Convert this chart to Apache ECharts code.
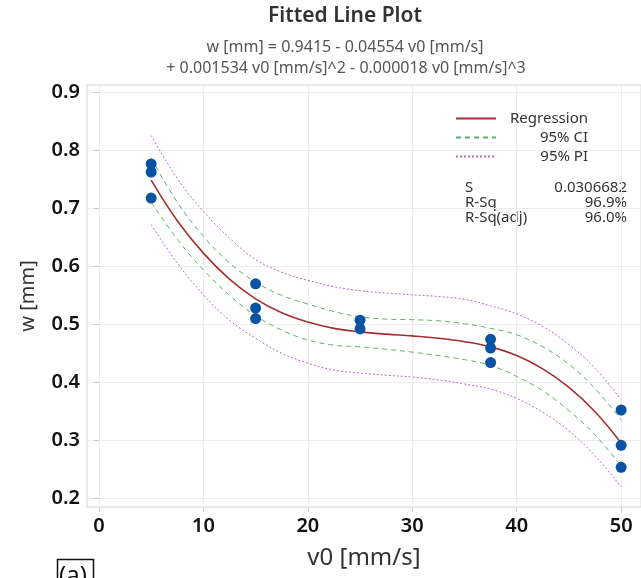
<!DOCTYPE html>
<html>
<head>
<meta charset="utf-8">
<script src="https://cdn.jsdelivr.net/npm/echarts@6/dist/echarts.min.js"></script>
<style>
html,body{margin:0;padding:0;background:#fff;}
#c{width:641px;height:578px;}
</style>
</head>
<body>
<div id="c"></div>
<script>
// ---- data ----
const pointX = [5, 5, 5, 15, 15, 15, 25, 25, 37.5, 37.5, 37.5, 50, 50, 50];
const pointY = [0.777, 0.763, 0.718, 0.570, 0.528, 0.510, 0.507, 0.492, 0.474, 0.459, 0.434, 0.352, 0.291, 0.253];

const curveX = [5, 7.5, 10, 12.5, 15, 17.5, 20, 22.5, 25, 27.5, 30, 32.5, 35, 37.5, 40, 42.5, 45, 47.5, 50];
const regression = [0.749, 0.679, 0.623, 0.578, 0.544, 0.520, 0.504, 0.493, 0.487, 0.483, 0.480, 0.476, 0.470, 0.461, 0.446, 0.423, 0.391, 0.349, 0.295];
const ciUpper = [0.787, 0.711, 0.652, 0.606, 0.573, 0.550, 0.535, 0.522, 0.513, 0.509, 0.508, 0.506, 0.501, 0.493, 0.482, 0.461, 0.431, 0.389, 0.335];
const ciLower = [0.711, 0.647, 0.594, 0.550, 0.515, 0.490, 0.473, 0.464, 0.461, 0.457, 0.452, 0.446, 0.439, 0.429, 0.410, 0.385, 0.351, 0.309, 0.255];
const piUpper = [0.826, 0.752, 0.695, 0.649, 0.612, 0.590, 0.576, 0.565, 0.558, 0.554, 0.551, 0.548, 0.543, 0.532, 0.518, 0.496, 0.465, 0.424, 0.370];
const piLower = [0.672, 0.606, 0.551, 0.507, 0.476, 0.450, 0.433, 0.421, 0.416, 0.412, 0.409, 0.404, 0.397, 0.388, 0.372, 0.348, 0.316, 0.273, 0.219];

const xTicks = [0, 10, 20, 30, 40, 50];
const yTicks = [0.2, 0.3, 0.4, 0.5, 0.6, 0.7, 0.8, 0.9];

const titleText = 'Fitted Line Plot';
const equation1 = 'w [mm] = 0.9415 - 0.04554 v0 [mm/s]';
const equation2 = '+ 0.001534 v0 [mm/s]^2 - 0.000018 v0 [mm/s]^3';
const statNames = ['S', 'R-Sq', 'R-Sq(adj)'];
const statValues = ['0.0306682', '96.9%', '96.0%'];

// ---- build ----
const pair = (xs, ys) => xs.map((x, i) => [x, ys[i]]);
const FONT = '"Noto Sans", "Open Sans", sans-serif';

const colReg = '#a4302e';
const colCI = '#5fae6c';
const colPI = '#b46bcc';
const colPt = '#0a53a3';

const chart = echarts.init(document.getElementById('c'), null, {renderer: 'canvas'});

const statGraphics = [];
statNames.forEach((n, i) => {
  statGraphics.push({
    type: 'text', left: 465, top: 180 + i * 15,
    style: {text: n, font: '15px ' + FONT, fill: '#333'}
  });
  statGraphics.push({
    type: 'text', right: 14, top: 180 + i * 15,
    style: {text: statValues[i], font: '15px ' + FONT, fill: '#333', align: 'right'}
  });
});

const option = {
  backgroundColor: '#fff',
  animation: false,
  title: [
    {text: titleText, left: 340, top: 1, textAlign: 'center',
     textStyle: {fontFamily: FONT, fontSize: 21, fontWeight: 600, color: '#333'}},
    {text: equation1, left: 340, top: 34, textAlign: 'center',
     textStyle: {fontFamily: FONT, fontSize: 16, fontWeight: 'normal', color: '#555'}},
    {text: equation2, left: 341, top: 55, textAlign: 'center',
     textStyle: {fontFamily: FONT, fontSize: 16, fontWeight: 'normal', color: '#555'}}
  ],
  legend: {
    orient: 'vertical', left: 455, top: 111, padding: 0,
    itemWidth: 40, itemHeight: 13, itemGap: 4,
    itemStyle: {color: 'rgba(0,0,0,0)', borderWidth: 0, opacity: 0},
    data: ['Regression', '95% CI', '95% PI'],
    textStyle: {fontFamily: FONT, fontSize: 15, color: '#333',
      rich: {a: {width: 87, align: 'right', fontFamily: FONT, fontSize: 15, color: '#333'}}},
    formatter: n => '{a|' + n + '}'
  },
  grid: {left: 87, right: -3, top: 85, bottom: 71, show: true, borderColor: '#d4d4d4', borderWidth: 1, containLabel: false},
  xAxis: {
    type: 'value', min: -1.143, max: 51.9,
    name: 'v0 [mm/s]', nameLocation: 'middle', nameGap: 39,
    nameTextStyle: {fontFamily: FONT, fontSize: 24, color: '#333'},
    axisLine: {show: false},
    axisTick: {show: true, length: 5, lineStyle: {color: '#c8c8c8'}, customValues: xTicks},
    axisLabel: {customValues: xTicks, fontFamily: FONT, fontSize: 20, fontWeight: 600, color: '#111', margin: 9},
    splitLine: {show: true, lineStyle: {color: '#ececec', width: 1}}
  },
  yAxis: {
    type: 'value', min: 0.1845, max: 0.9133,
    name: 'w [mm]', nameLocation: 'middle', nameGap: 49, nameRotate: 90,
    nameTextStyle: {fontFamily: FONT, fontSize: 20, color: '#333'},
    axisLine: {show: false},
    axisTick: {show: true, length: 5, lineStyle: {color: '#c8c8c8'}, customValues: yTicks},
    axisLabel: {customValues: yTicks, fontFamily: FONT, fontSize: 20, fontWeight: 600, color: '#111', margin: 7,
      formatter: v => v.toFixed(1)},
    splitLine: {show: true, lineStyle: {color: '#ececec', width: 1}}
  },
  series: [
    {name: '95% PI', type: 'line', data: pair(curveX, piUpper), smooth: 0.4, symbol: 'none',
     lineStyle: {color: colPI, width: 1, type: [2, 2]}, itemStyle: {color: colPI}, z: 2},
    {name: '95% PI', type: 'line', data: pair(curveX, piLower), smooth: 0.4, symbol: 'none',
     lineStyle: {color: colPI, width: 1, type: [2, 2]}, itemStyle: {color: colPI}, z: 2},
    {name: '95% CI', type: 'line', data: pair(curveX, ciUpper), smooth: 0.4, symbol: 'none',
     lineStyle: {color: colCI, width: 1, type: [5, 4]}, itemStyle: {color: colCI}, z: 3},
    {name: '95% CI', type: 'line', data: pair(curveX, ciLower), smooth: 0.4, symbol: 'none',
     lineStyle: {color: colCI, width: 1, type: [5, 4]}, itemStyle: {color: colCI}, z: 3},
    {name: 'Regression', type: 'line', data: pair(curveX, regression), smooth: 0.4, symbol: 'none',
     lineStyle: {color: colReg, width: 1.6}, itemStyle: {color: colReg}, z: 4},
    {name: 'Data', type: 'scatter', data: pair(pointX, pointY), symbolSize: 11,
     itemStyle: {color: colPt, opacity: 1}, z: 5}
  ],
  graphic: statGraphics.concat([
    {type: 'rect', left: 55, top: 557, shape: {width: 36, height: 40},
     style: {fill: 'none', stroke: '#111', lineWidth: 1.5}},
    {type: 'text', left: 59, top: 564,
     style: {text: '(a)', font: '24px ' + FONT, fill: '#111'}}
  ])
};
chart.setOption(option);
</script>
</body>
</html>
